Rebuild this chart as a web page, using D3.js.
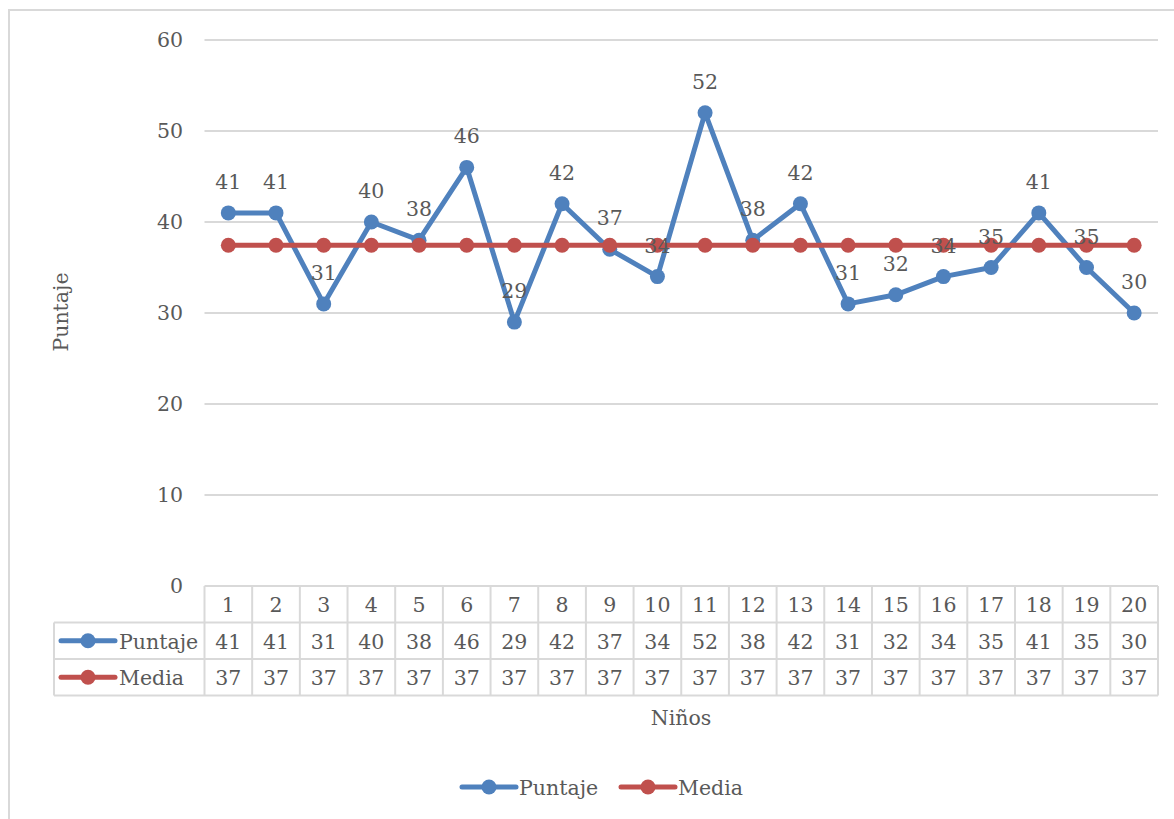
<!DOCTYPE html>
<html><head><meta charset="utf-8">
<script src="https://cdn.jsdelivr.net/npm/d3@7"></script>
<style>body{margin:0;background:#fff}svg{display:block}text{font-family:"DejaVu Serif",serif;fill:#595959}</style>
</head><body><svg id="c" width="1174" height="819"></svg>
<script>
const categories = ["1","2","3","4","5","6","7","8","9","10","11","12","13","14","15","16","17","18","19","20"];
const puntaje = [41,41,31,40,38,46,29,42,37,34,52,38,42,31,32,34,35,41,35,30];
const media = [37.45,37.45,37.45,37.45,37.45,37.45,37.45,37.45,37.45,37.45,37.45,37.45,37.45,37.45,37.45,37.45,37.45,37.45,37.45,37.45];
const yTicks = [0,10,20,30,40,50,60];
const seriesNames = ["Puntaje","Media"];
const colors = ["#4F81BD","#C0504D"];

const svg = d3.select("#c");
const FS = 20.5;
const LW = 5, MR = 7.5;
// outer border
svg.append("rect").attr("x",9).attr("y",10).attr("width",1180).attr("height",830)
  .attr("fill","#fff").attr("stroke","#d9d9d9").attr("stroke-width",2);

const x0 = 204.5, x1 = 1158;
const x = d3.scaleBand().domain(categories).range([x0,x1]);
const y = d3.scaleLinear().domain([0,60]).range([586,40]);

// gridlines
svg.append("g").selectAll("line").data(yTicks.filter(d=>d>0)).join("line")
  .attr("x1",x0).attr("x2",x1).attr("y1",d=>y(d)).attr("y2",d=>y(d))
  .attr("stroke","#d9d9d9").attr("stroke-width",2);
// y tick labels
svg.append("g").selectAll("text").data(yTicks).join("text")
  .attr("x",183).attr("y",d=>y(d)).attr("text-anchor","end").attr("dominant-baseline","central")
  .attr("font-size",FS).text(d=>d);

const cx = d => x(d) + x.bandwidth()/2;
const seriesData = [puntaje, media];
seriesData.forEach((vals,si)=>{
  const pts = categories.map((c,i)=>[cx(c), y(vals[i])]);
  svg.append("path").attr("d",d3.line()(pts)).attr("fill","none")
    .attr("stroke",colors[si]).attr("stroke-width",LW).attr("stroke-linejoin","round");
  svg.append("g").selectAll("circle").data(pts).join("circle")
    .attr("cx",d=>d[0]).attr("cy",d=>d[1]).attr("r",MR).attr("fill",colors[si]);
});
// data labels
svg.append("g").selectAll("text").data(categories).join("text")
  .attr("x",cx).attr("y",(c,i)=>y(puntaje[i])-31).attr("text-anchor","middle").attr("dominant-baseline","central")
  .attr("font-size",FS).text((c,i)=>puntaje[i]);

// data table
const rowY = [586,622.5,659,695.5];
const tbl = svg.append("g").attr("stroke","#d9d9d9").attr("stroke-width",2).attr("fill","none");
tbl.append("line").attr("x1",x0).attr("x2",x1).attr("y1",rowY[0]).attr("y2",rowY[0]);
[1,2,3].forEach(r=>tbl.append("line").attr("x1",54).attr("x2",x1).attr("y1",rowY[r]).attr("y2",rowY[r]));
categories.forEach(c=>tbl.append("line").attr("x1",x(c)).attr("x2",x(c)).attr("y1",rowY[0]).attr("y2",rowY[3]));
tbl.append("line").attr("x1",x1).attr("x2",x1).attr("y1",rowY[0]).attr("y2",rowY[3]);
tbl.append("line").attr("x1",54).attr("x2",54).attr("y1",rowY[1]).attr("y2",rowY[3]);

const rowsText = [categories, puntaje.map(String), media.map(v=>String(Math.floor(v)))];
rowsText.forEach((arr,r)=>{
  svg.append("g").selectAll("text").data(arr).join("text")
    .attr("x",(d,i)=>cx(categories[i])).attr("y",(rowY[r]+rowY[r+1])/2+1)
    .attr("text-anchor","middle").attr("dominant-baseline","central").attr("font-size",FS).text(d=>d);
});
// legend keys in table
seriesNames.forEach((n,si)=>{
  const yy = (rowY[si+1]+rowY[si+2])/2;
  svg.append("line").attr("x1",61).attr("x2",115).attr("y1",yy).attr("y2",yy)
    .attr("stroke",colors[si]).attr("stroke-width",LW).attr("stroke-linecap","round");
  svg.append("circle").attr("cx",88).attr("cy",yy).attr("r",MR).attr("fill",colors[si]);
  svg.append("text").attr("x",119).attr("y",yy+1).attr("dominant-baseline","central").attr("font-size",FS).text(n);
});

// axis titles
svg.append("text").attr("transform","translate(61,312) rotate(-90)").attr("text-anchor","middle")
  .attr("dominant-baseline","central").attr("font-size",FS).text("Puntaje");
svg.append("text").attr("x",681).attr("y",718).attr("text-anchor","middle")
  .attr("dominant-baseline","central").attr("font-size",FS).text("Niños");

// bottom legend
const legX = [462,621];
seriesNames.forEach((n,si)=>{
  const yy = 787;
  svg.append("line").attr("x1",legX[si]).attr("x2",legX[si]+54).attr("y1",yy).attr("y2",yy)
    .attr("stroke",colors[si]).attr("stroke-width",LW).attr("stroke-linecap","round");
  svg.append("circle").attr("cx",legX[si]+27).attr("cy",yy).attr("r",MR).attr("fill",colors[si]);
  svg.append("text").attr("x",legX[si]+57).attr("y",yy+1).attr("dominant-baseline","central").attr("font-size",FS).text(n);
});
</script></body></html>
